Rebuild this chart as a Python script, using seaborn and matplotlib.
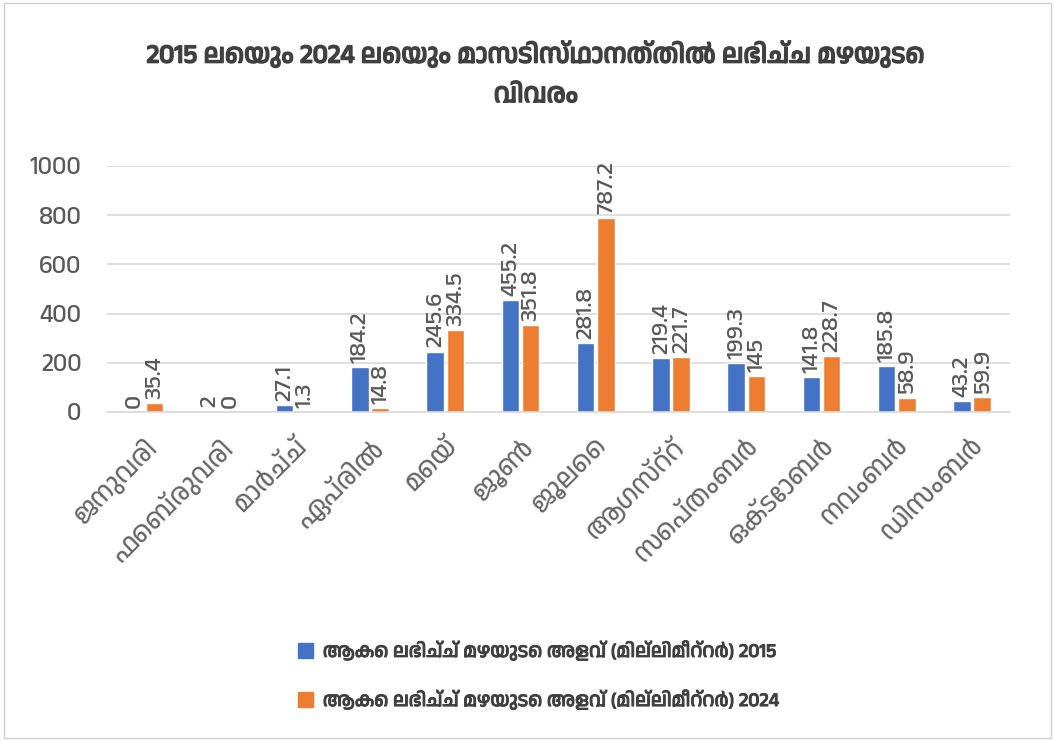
import pandas as pd
import seaborn as sns
import matplotlib.pyplot as plt
import matplotlib.patches as mpatches
import matplotlib.patheffects as pe
from matplotlib import font_manager

months = ["ജനുവരി", "ഫെബ്രുവരി", "മാർച്ച്", "ഏപ്രിൽ", "മെയ്", "ജൂൺ",
          "ജൂലൈ", "ആഗസ്റ്റ്", "സെപ്തംബർ", "ഒക്ടോബർ", "നവംബർ", "ഡിസംബർ"]
rain_2015 = [0, 2, 27.1, 184.2, 245.6, 455.2, 281.8, 219.4, 199.3, 141.8, 185.8, 43.2]
rain_2024 = [35.4, 0, 1.3, 14.8, 334.5, 351.8, 787.2, 221.7, 145, 228.7, 58.9, 59.9]
series_names = ["ആകെ ലഭിച്ച് മഴയുടെ അളവ് (മില്ലിമീറ്റർ) 2015",
                "ആകെ ലഭിച്ച് മഴയുടെ അളവ് (മില്ലിമീറ്റർ) 2024"]
title = "2015 ലെയും 2024 ലെയും മാസടിസ്ഥാനത്തിൽ ലഭിച്ച മഴയുടെ\nവിവരം"

# long format for seaborn
df = pd.DataFrame({
    "month": months * 2,
    "rain": rain_2015 + rain_2024,
    "series": [series_names[0]] * 12 + [series_names[1]] * 12,
})

sns.set_style("white")

# look for a Malayalam capable font, if any is installed
ml_fonts = sorted({f.name for f in font_manager.fontManager.ttflist
                   if "malayalam" in f.name.lower() or f.name in ("Manjari", "Rachana", "Meera")})
families = ml_fonts + ["Lato", "DejaVu Sans"]
plt.rcParams["font.family"] = families

grey = "#595959"
dark = "#404040"
fig = plt.figure(figsize=(10.55, 7.41), dpi=100)
ax = fig.add_axes([0.101, 0.444, 0.856, 0.332])

sns.barplot(data=df, x="month", y="rain", hue="series",
            palette=["#4472C4", "#ED7D31"], saturation=1, width=0.54, gap=0.14,
            order=months, hue_order=series_names, ax=ax, legend=True)

for cont in ax.containers:
    ax.bar_label(cont, labels=[f"{v:g}" for v in cont.datavalues],
                 rotation=90, padding=3, fontsize=17.5, color=grey, clip_on=False)

ax.set_ylim(0, 1000)
ax.set_yticks(range(0, 1001, 200))
ax.yaxis.grid(True, color="#D9D9D9", linewidth=1.2)
ax.set_axisbelow(True)
for s in ["left", "right", "top"]:
    ax.spines[s].set_visible(False)
ax.spines["bottom"].set_color("#D9D9D9")
ax.spines["bottom"].set_linewidth(1.2)
ax.tick_params(axis="y", labelsize=18, labelcolor=grey, length=0, pad=18)
ax.tick_params(axis="x", labelsize=19, labelcolor="#666666", length=0, pad=16)
plt.setp(ax.get_xticklabels(), rotation=45, ha="right", rotation_mode="anchor")
ax.set_xlabel("")
ax.set_ylabel("")

# the Malayalam font has no bold face, so thicken with a stroke
bold = [pe.withStroke(linewidth=1.1, foreground=dark)]
fig.suptitle(title, x=0.508, y=0.945, fontsize=19, fontweight="bold",
             color=dark, linespacing=2.0, path_effects=bold)

handles = [mpatches.Patch(color="#4472C4", label=series_names[0]),
           mpatches.Patch(color="#ED7D31", label=series_names[1])]
leg = ax.legend(handles=handles, loc="center", bbox_to_anchor=(0.51, 0.089),
                bbox_transform=fig.transFigure, frameon=False, ncol=1,
                labelcolor=dark, handlelength=0.8, handleheight=0.8,
                handletextpad=0.5, labelspacing=1.5, prop={"weight": "bold", "size": 14})
for t in leg.get_texts():
    t.set_path_effects([pe.withStroke(linewidth=0.7, foreground=dark)])

fig.add_artist(mpatches.Rectangle((0.004, 0.004), 0.992, 0.992, transform=fig.transFigure,
                                  fill=False, edgecolor="#D0D0D0", linewidth=1))

fig.savefig("out.png", dpi=100)
